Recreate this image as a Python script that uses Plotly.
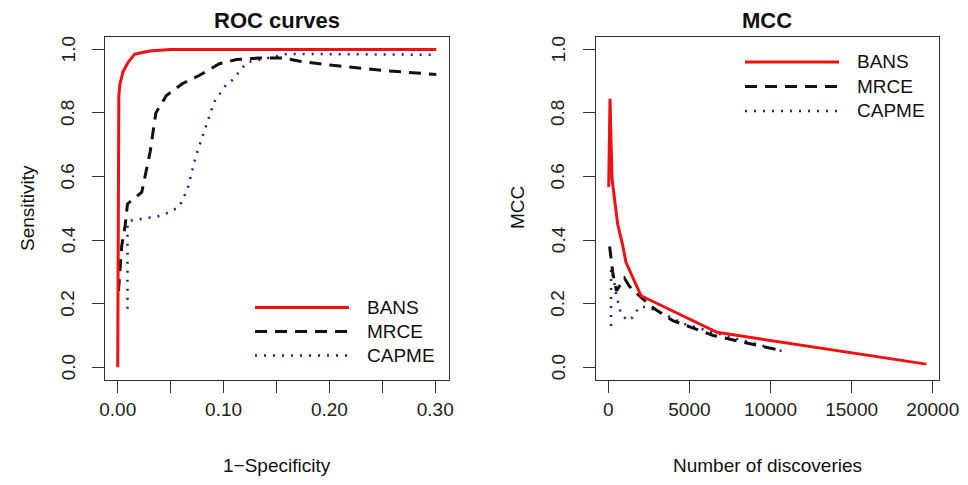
import plotly.graph_objects as go

# ---------------- data ----------------
roc_bans_x = [0.0, 0.0004, 0.001, 0.002, 0.005, 0.010, 0.016, 0.030, 0.050, 0.100, 0.200, 0.301]
roc_bans_y = [0.0, 0.75, 0.85, 0.89, 0.93, 0.96, 0.985, 0.995, 1.0, 1.0, 1.0, 1.0]

roc_mrce_x = [0.0007, 0.0038, 0.007, 0.0092, 0.0227, 0.0268, 0.0306, 0.036, 0.046, 0.061,
              0.077, 0.096, 0.112, 0.134, 0.156, 0.172, 0.203, 0.250, 0.301]
roc_mrce_y = [0.24, 0.383, 0.446, 0.514, 0.551, 0.614, 0.677, 0.80, 0.855, 0.892,
              0.918, 0.955, 0.968, 0.973, 0.973, 0.963, 0.95, 0.934, 0.921]

roc_capme_x = [0.0092, 0.0092, 0.0132, 0.0416, 0.058, 0.066, 0.074, 0.0835, 0.091, 0.102,
               0.110, 0.1166, 0.123, 0.1465, 0.160, 0.301]
roc_capme_y = [0.184, 0.455, 0.462, 0.477, 0.504, 0.561, 0.666, 0.761, 0.834, 0.887,
               0.908, 0.939, 0.96, 0.976, 0.986, 0.983]

mcc_bans_x = [25, 105, 230, 580, 890, 1090, 2020, 6700, 19600]
mcc_bans_y = [0.567, 0.845, 0.593, 0.45, 0.383, 0.33, 0.225, 0.11, 0.01]

mcc_mrce_x = [80, 270, 500, 1000, 1300, 1910, 2840, 3970, 6470, 10170, 10700]
mcc_mrce_y = [0.38, 0.30, 0.24, 0.28, 0.255, 0.225, 0.184, 0.147, 0.10, 0.058, 0.052]

mcc_capme_x = [170, 170, 370, 475, 780, 1195, 1500, 1900, 2430, 3660, 4690, 6470, 11000]
mcc_capme_y = [0.13, 0.31, 0.268, 0.231, 0.168, 0.147, 0.157, 0.19, 0.189, 0.162, 0.136, 0.11, 0.047]

methods = ["BANS", "MRCE", "CAPME"]
roc_xticks = [0.0, 0.05, 0.10, 0.15, 0.20, 0.25, 0.30]
roc_xtick_labels = ["0.00", "", "0.10", "", "0.20", "", "0.30"]
mcc_xticks = [0, 5000, 10000, 15000, 20000]
mcc_xtick_labels = ["0", "5000", "10000", "15000", "20000"]
yticks = [0.0, 0.2, 0.4, 0.6, 0.8, 1.0]
ytick_labels = ["0.0", "0.2", "0.4", "0.6", "0.8", "1.0"]

# ---------------- styles ----------------
W, H = 968, 485
FONT = "Liberation Sans, Arial, Helvetica, sans-serif"
RED = "#ee1111"
BLACK = "#111111"
BLUE = "#1f1f9e"
styles = {
    "BANS": dict(color=RED, width=3, dash="solid"),
    "MRCE": dict(color=BLACK, width=3, dash="12px,8px"),
    "CAPME": dict(color=BLUE, width=2.5, dash="2px,7px"),
}

def px(x):
    return x / W

def py(y):
    return 1 - y / H

fig = go.Figure()
roc = {"BANS": (roc_bans_x, roc_bans_y), "MRCE": (roc_mrce_x, roc_mrce_y),
       "CAPME": (roc_capme_x, roc_capme_y)}
mcc = {"BANS": (mcc_bans_x, mcc_bans_y), "MRCE": (mcc_mrce_x, mcc_mrce_y),
       "CAPME": (mcc_capme_x, mcc_capme_y)}
for m in ["CAPME", "MRCE", "BANS"]:
    fig.add_trace(go.Scatter(x=roc[m][0], y=roc[m][1], mode="lines", line=styles[m],
                             xaxis="x", yaxis="y", showlegend=False, hoverinfo="skip"))
    fig.add_trace(go.Scatter(x=mcc[m][0], y=mcc[m][1], mode="lines", line=styles[m],
                             xaxis="x2", yaxis="y2", showlegend=False, hoverinfo="skip"))

axis_common = dict(showline=True, mirror=True, linecolor="#333", linewidth=1,
                   ticks="outside", ticklen=12, tickwidth=1, tickcolor="#333",
                   showgrid=False, zeroline=False, automargin=False,
                   tickfont=dict(family=FONT, size=19, color="#222"))

ydom = [py(380), py(36.7)]
fig.update_layout(
    width=W, height=H, margin=dict(l=0, r=0, t=0, b=0, pad=0, autoexpand=False),
    paper_bgcolor="white", plot_bgcolor="white",
    xaxis=dict(domain=[px(105), px(449)], range=[-0.01204, 0.31304], anchor="y",
               tickmode="array", tickvals=roc_xticks, ticktext=roc_xtick_labels, **axis_common),
    yaxis=dict(domain=ydom, range=[-0.04, 1.04], anchor="x", showticklabels=False,
               tickmode="array", tickvals=yticks, **axis_common),
    xaxis2=dict(domain=[px(596), px(939)], range=[-758, 20383], anchor="y2",
                tickmode="array", tickvals=mcc_xticks, ticktext=mcc_xtick_labels, **axis_common),
    yaxis2=dict(domain=ydom, range=[-0.04, 1.04], anchor="x2", showticklabels=False,
                tickmode="array", tickvals=yticks, **axis_common),
)

ann = []
def text(x, y, s, size=19, bold=False, angle=0, xanchor="center"):
    ann.append(dict(x=px(x), y=py(y), xref="paper", yref="paper", text=("<b>%s</b>" % s) if bold else s,
                    showarrow=False, textangle=angle, xanchor=xanchor, yanchor="middle",
                    font=dict(family=FONT, size=size, color="#111")))

# y tick labels (R style, parallel to the axis), placed on the data axis scale
for yref, xpix in (("y", 68), ("y2", 558)):
    for v, lab in zip(yticks, ytick_labels):
        ann.append(dict(x=px(xpix), y=v, xref="paper", yref=yref, text=lab, showarrow=False,
                        textangle=-90, xanchor="center", yanchor="middle",
                        font=dict(family=FONT, size=19, color="#222")))

text(277, 21, "ROC curves", size=22, bold=True)
text(767, 21, "MCC", size=22, bold=True)
text(277, 465, "1\u2212Specificity")
text(767, 465, "Number of discoveries")
text(27, 208, "Sensitivity", angle=-90)
text(517, 208, "MCC", angle=-90)

shapes = []
def legend(x0, x1, xt, ys):
    for m, yy in zip(methods, ys):
        st = styles[m]
        shapes.append(dict(type="line", xref="paper", yref="paper", x0=px(x0), x1=px(x1),
                           y0=py(yy), y1=py(yy),
                           line=dict(color=st["color"], width=st["width"], dash=st["dash"])))
        text(xt, yy, m, xanchor="left")

legend(255, 349, 365, [307.5, 331.5, 355.5])
legend(745, 839, 855, [62, 86.5, 111])

fig.update_layout(annotations=ann, shapes=shapes)
fig.write_html("out.html", config={"displayModeBar": False, "staticPlot": True},
               post_script="document.body.style.margin='0';document.body.style.padding='0';")
